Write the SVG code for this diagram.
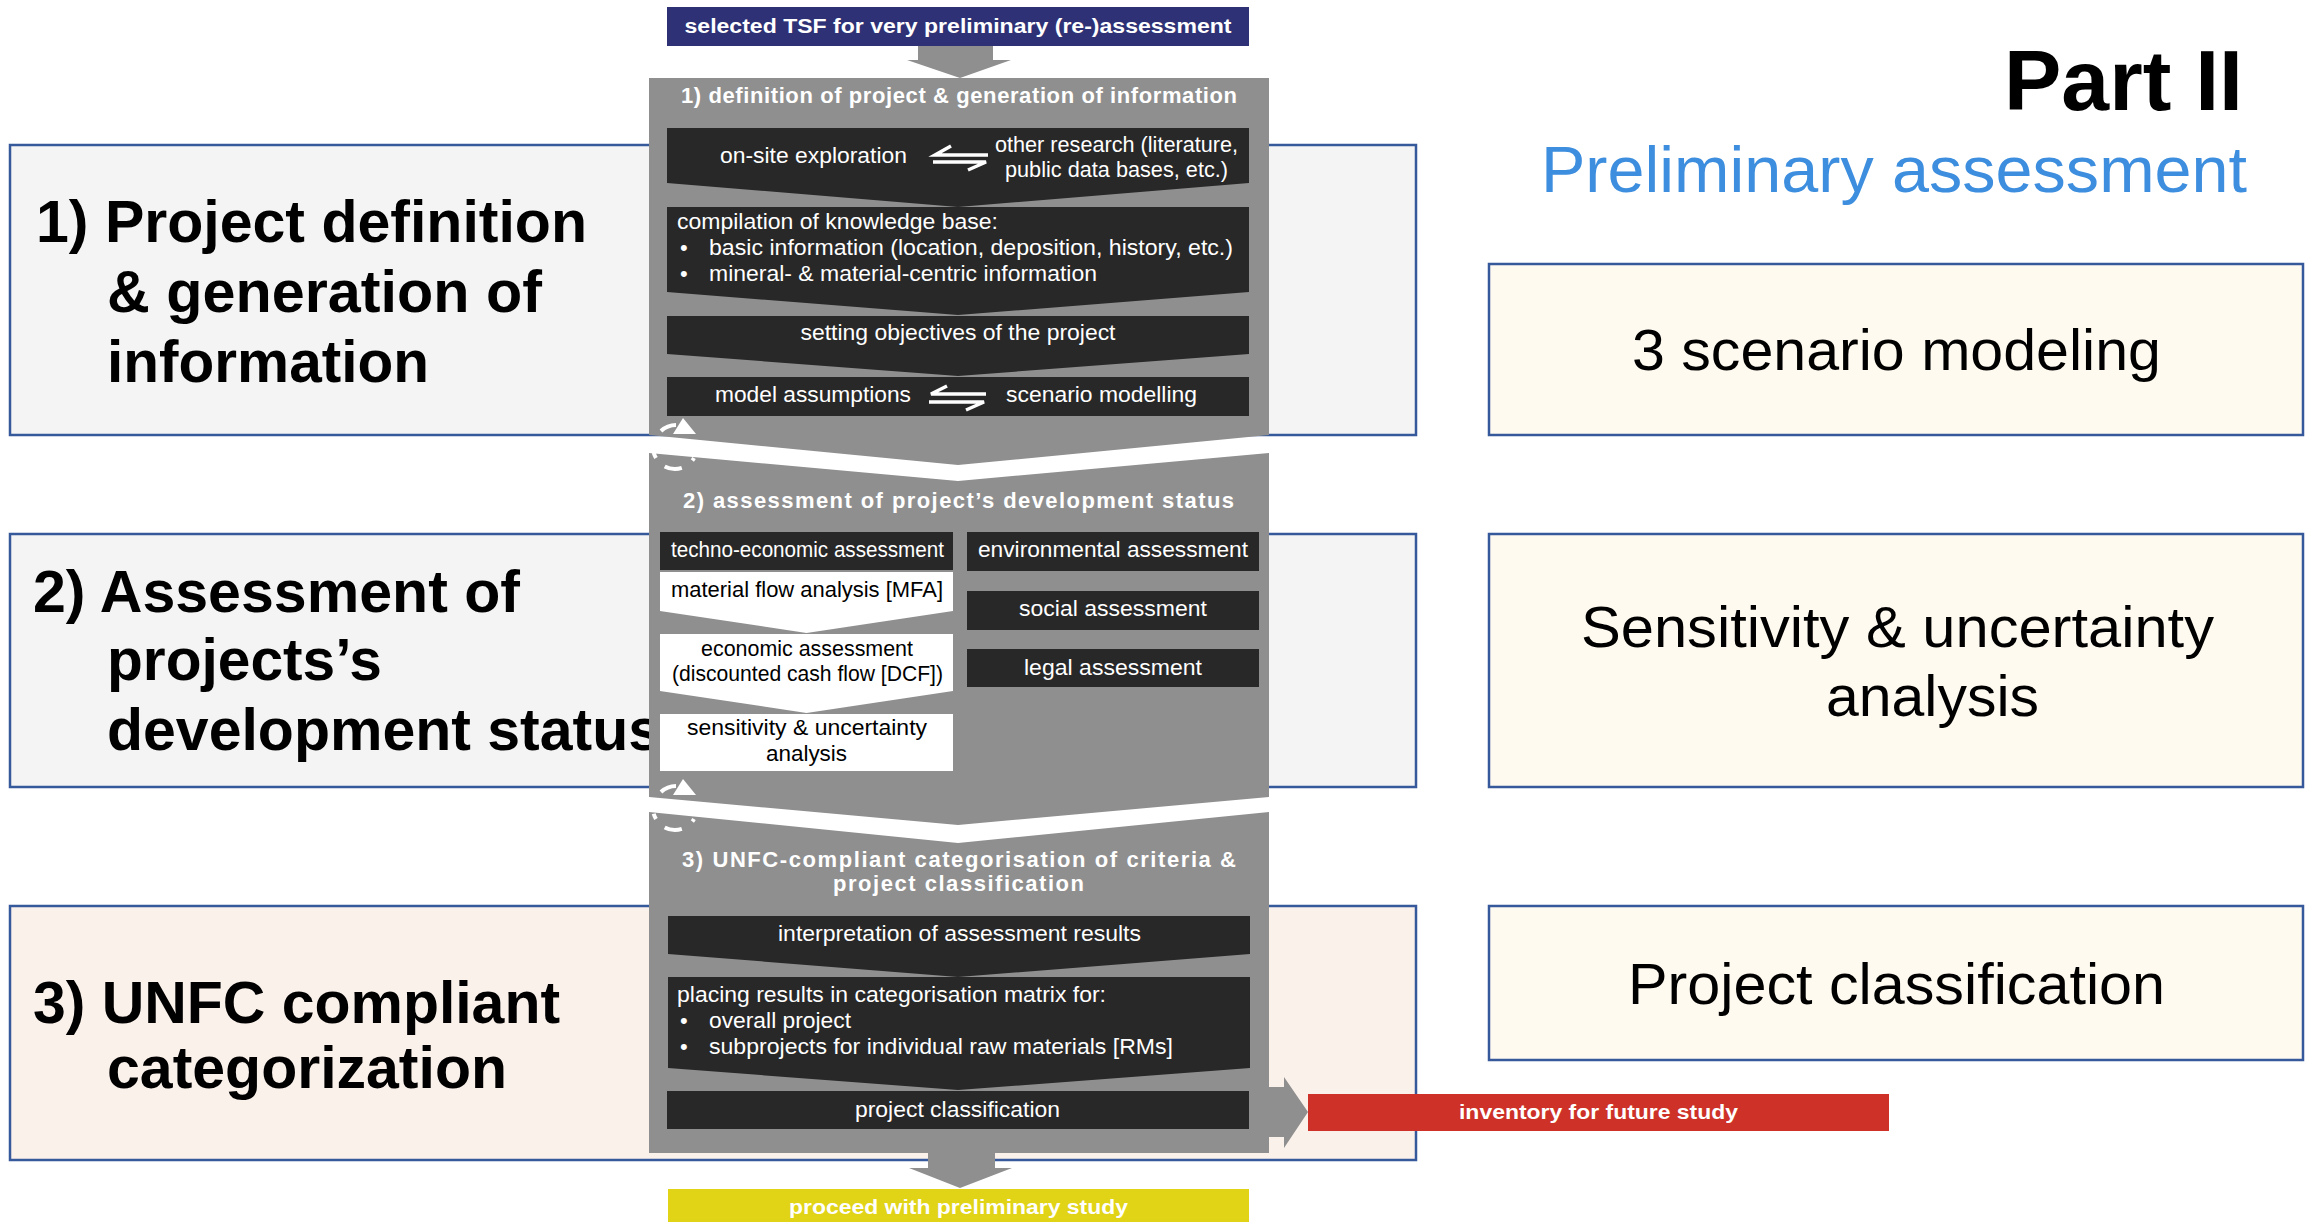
<svg xmlns="http://www.w3.org/2000/svg" width="2315" height="1224" viewBox="0 0 2315 1224">
<style>
text{font-family:"Liberation Sans",Arial,sans-serif}
.lbox{fill:#f4f4f4;stroke:#35599b;stroke-width:2.5}
.lbox3{fill:#fbf1eb;stroke:#35599b;stroke-width:2.5}
.rbox{fill:#fffaf0;stroke:#35599b;stroke-width:2.5}
.panel{fill:#8f8f8f}
.dark{fill:#282828}
.wbox{fill:#ffffff}
.big{font-size:59px;font-weight:bold;fill:#000}
.rt{font-size:58px;fill:#000}
.ptitle{font-size:22px;font-weight:bold;fill:#fff}
.wt{font-size:22px;fill:#fff}
.bt{font-size:22px;fill:#000}
.c{text-anchor:middle}
.hp{fill:none;stroke:#fff;stroke-width:3.5}
.loop{fill:none;stroke:#fff;stroke-width:4}
</style>
<rect width="2315" height="1224" fill="#fff"/>

<g id="left-box-1">
<rect class="lbox" x="10" y="145" width="1406" height="290"/>
<text class="big" x="36" y="242" textLength="551" lengthAdjust="spacingAndGlyphs">1) Project definition</text>
<text class="big" x="107" y="312" textLength="435" lengthAdjust="spacingAndGlyphs">&amp; generation of</text>
<text class="big" x="107" y="382" textLength="322" lengthAdjust="spacingAndGlyphs">information</text>
</g>
<g id="left-box-2">
<rect class="lbox" x="10" y="534" width="1406" height="253"/>
<text class="big" x="33" y="612" textLength="487" lengthAdjust="spacingAndGlyphs">2) Assessment of</text>
<text class="big" x="107" y="680" textLength="275" lengthAdjust="spacingAndGlyphs">projects’s</text>
<text class="big" x="107" y="750">development status</text>
</g>
<g id="left-box-3">
<rect class="lbox3" x="10" y="906" width="1406" height="254"/>
<text class="big" x="33" y="1023" textLength="527" lengthAdjust="spacingAndGlyphs">3) UNFC compliant</text>
<text class="big" x="107" y="1088" textLength="400" lengthAdjust="spacingAndGlyphs">categorization</text>
</g>

<g id="header">
<text x="2243" y="110" style="font-size:86px;font-weight:bold;text-anchor:end" textLength="239" lengthAdjust="spacingAndGlyphs">Part II</text>
<text x="1541" y="192" style="font-size:64px;fill:#3d8ede" textLength="706" lengthAdjust="spacingAndGlyphs">Preliminary assessment</text>
</g>

<g id="right-box-1">
<rect class="rbox" x="1489" y="264" width="814" height="171"/>
<text class="rt c" x="1896.5" y="370" textLength="529" lengthAdjust="spacingAndGlyphs">3 scenario modeling</text>
</g>
<g id="right-box-2">
<rect class="rbox" x="1489" y="534" width="814" height="253"/>
<text class="rt c" x="1897.5" y="647" textLength="633" lengthAdjust="spacingAndGlyphs">Sensitivity &amp; uncertainty</text>
<text class="rt c" x="1932.5" y="716" textLength="213" lengthAdjust="spacingAndGlyphs">analysis</text>
</g>
<g id="right-box-3">
<rect class="rbox" x="1489" y="906" width="814" height="154"/>
<text class="rt c" x="1896.5" y="1004" textLength="537" lengthAdjust="spacingAndGlyphs">Project classification</text>
</g>

<g id="connectors">
<path class="panel" d="M918,46 L993,46 L993,60 L1011,60 L960,78 L907,60 L918,60 Z"/>
<path class="panel" d="M928,1150 L995,1150 L995,1168 L1012,1168 L960,1188 L909,1168 L928,1168 Z"/>
<path class="panel" d="M1260,1087 L1284,1087 L1284,1077 L1308,1112 L1284,1148 L1284,1137 L1260,1137 Z"/>
</g>

<g id="start">
<rect x="667" y="7" width="582" height="39" fill="#2e3175"/>
<text class="ptitle c" x="958" y="33" style="font-size:20px" textLength="547" lengthAdjust="spacingAndGlyphs">selected TSF for very preliminary (re-)assessment</text>
</g>

<g id="panel-1">
<path class="panel" d="M649,78 L1269,78 L1269,435 L958,465 L649,435 Z"/>
<text class="ptitle c" x="959" y="103" textLength="556" lengthAdjust="spacing">1) definition of project &amp; generation of information</text>
<path class="dark" d="M667,128 L1249,128 L1249,183 L958,207 L667,183 Z"/>
<text class="wt c" x="813.5" y="163" textLength="187" lengthAdjust="spacingAndGlyphs">on-site exploration</text>
<path class="hp" d="M951,146 L935,155 L988,155 M933,162 L986,162 L968,170"/>
<text class="wt c" x="1116.5" y="152" textLength="243" lengthAdjust="spacingAndGlyphs">other research (literature,</text>
<text class="wt c" x="1116.5" y="177" textLength="223" lengthAdjust="spacingAndGlyphs">public data bases, etc.)</text>
<path class="dark" d="M667,207 L1249,207 L1249,292 L958,315 L667,292 Z"/>
<text class="wt" x="677" y="229" textLength="321" lengthAdjust="spacingAndGlyphs">compilation of knowledge base:</text>
<text class="wt" x="680" y="255">•</text>
<text class="wt" x="709" y="255" textLength="524" lengthAdjust="spacingAndGlyphs">basic information (location, deposition, history, etc.)</text>
<text class="wt" x="680" y="281">•</text>
<text class="wt" x="709" y="281" textLength="388" lengthAdjust="spacingAndGlyphs">mineral- &amp; material-centric information</text>
<path class="dark" d="M667,316 L1249,316 L1249,354 L958,376 L667,354 Z"/>
<text class="wt c" x="958" y="340" textLength="315" lengthAdjust="spacingAndGlyphs">setting objectives of the project</text>
<rect class="dark" x="667" y="377" width="582" height="39"/>
<text class="wt c" x="813" y="402" textLength="196" lengthAdjust="spacingAndGlyphs">model assumptions</text>
<path class="hp" d="M947,386 L931,394 L986,394 M929,402 L984,402 L966,410"/>
<text class="wt c" x="1101.5" y="402" textLength="191" lengthAdjust="spacingAndGlyphs">scenario modelling</text>
</g>

<g id="panel-2">
<path class="panel" d="M649,453 L958,481 L1269,453 L1269,797 L958,825 L649,797 Z"/>
<text class="ptitle c" x="958.5" y="508" textLength="551" lengthAdjust="spacing">2) assessment of project’s development status</text>
<rect class="dark" x="660" y="532" width="293" height="38"/>
<text class="wt c" x="807.5" y="557" textLength="273" lengthAdjust="spacingAndGlyphs">techno-economic assessment</text>
<path class="wbox" d="M660,572 L953,572 L953,611 L806.5,633 L660,611 Z"/>
<text class="bt c" x="807" y="597" textLength="272" lengthAdjust="spacingAndGlyphs">material flow analysis [MFA]</text>
<path class="wbox" d="M660,634 L953,634 L953,691 L806.5,713 L660,691 Z"/>
<text class="bt c" x="807" y="656" textLength="212" lengthAdjust="spacingAndGlyphs">economic assessment</text>
<text class="bt c" x="807.5" y="681" textLength="271" lengthAdjust="spacingAndGlyphs">(discounted cash flow [DCF])</text>
<rect class="wbox" x="660" y="714" width="293" height="57"/>
<text class="bt c" x="807" y="735" textLength="240" lengthAdjust="spacingAndGlyphs">sensitivity &amp; uncertainty</text>
<text class="bt c" x="806.5" y="761" textLength="81" lengthAdjust="spacingAndGlyphs">analysis</text>
<rect class="dark" x="967" y="532" width="292" height="39"/>
<text class="wt c" x="1113" y="557" textLength="270" lengthAdjust="spacingAndGlyphs">environmental assessment</text>
<rect class="dark" x="967" y="591" width="292" height="39"/>
<text class="wt c" x="1113" y="616" textLength="188" lengthAdjust="spacingAndGlyphs">social assessment</text>
<rect class="dark" x="967" y="649" width="292" height="38"/>
<text class="wt c" x="1113" y="675" textLength="178" lengthAdjust="spacingAndGlyphs">legal assessment</text>
</g>

<g id="panel-3">
<path class="panel" d="M649,812 L958,843 L1269,812 L1269,1153 L649,1153 Z"/>
<text class="ptitle c" x="959" y="867" textLength="554" lengthAdjust="spacing">3) UNFC-compliant categorisation of criteria &amp;</text>
<text class="ptitle c" x="958.5" y="891" textLength="251" lengthAdjust="spacing">project classification</text>
<path class="dark" d="M668,916 L1250,916 L1250,954 L958,977 L668,954 Z"/>
<text class="wt c" x="959.5" y="941" textLength="363" lengthAdjust="spacingAndGlyphs">interpretation of assessment results</text>
<path class="dark" d="M668,977 L1250,977 L1250,1068 L958,1090 L668,1068 Z"/>
<text class="wt" x="677" y="1002" textLength="429" lengthAdjust="spacingAndGlyphs">placing results in categorisation matrix for:</text>
<text class="wt" x="680" y="1028">•</text>
<text class="wt" x="709" y="1028" textLength="142" lengthAdjust="spacingAndGlyphs">overall project</text>
<text class="wt" x="680" y="1054">•</text>
<text class="wt" x="709" y="1054" textLength="464" lengthAdjust="spacingAndGlyphs">subprojects for individual raw materials [RMs]</text>
<rect class="dark" x="667" y="1091" width="582" height="38"/>
<text class="wt c" x="957.5" y="1117" textLength="205" lengthAdjust="spacingAndGlyphs">project classification</text>
</g>

<g id="loop-1">
<path class="loop" d="M661,431 A22,22 0 0 1 676,425"/>
<polygon fill="#fff" points="673,434 696,434 683,418"/>
<path class="loop" d="M653.7,452.7 A22,22 0 0 0 656,458 M664.7,466.4 A22,22 0 0 0 681.8,467.9 M692.3,460.5 A22,22 0 0 0 694,458"/>
</g>
<g id="loop-2" transform="translate(0,361)">
<path class="loop" d="M661,431 A22,22 0 0 1 676,425"/>
<polygon fill="#fff" points="673,434 696,434 683,418"/>
<path class="loop" d="M653.7,452.7 A22,22 0 0 0 656,458 M664.7,466.4 A22,22 0 0 0 681.8,467.9 M692.3,460.5 A22,22 0 0 0 694,458"/>
</g>

<g id="end-proceed">
<rect x="668" y="1189" width="581" height="33" fill="#e1d316"/>
<text class="ptitle c" x="958.5" y="1214" style="font-size:21px" textLength="339" lengthAdjust="spacingAndGlyphs">proceed with preliminary study</text>
</g>
<g id="end-inventory">
<rect x="1308" y="1094" width="581" height="37" fill="#cd3127"/>
<text class="ptitle c" x="1598.5" y="1119" style="font-size:21px" textLength="279" lengthAdjust="spacingAndGlyphs">inventory for future study</text>
</g>
</svg>
